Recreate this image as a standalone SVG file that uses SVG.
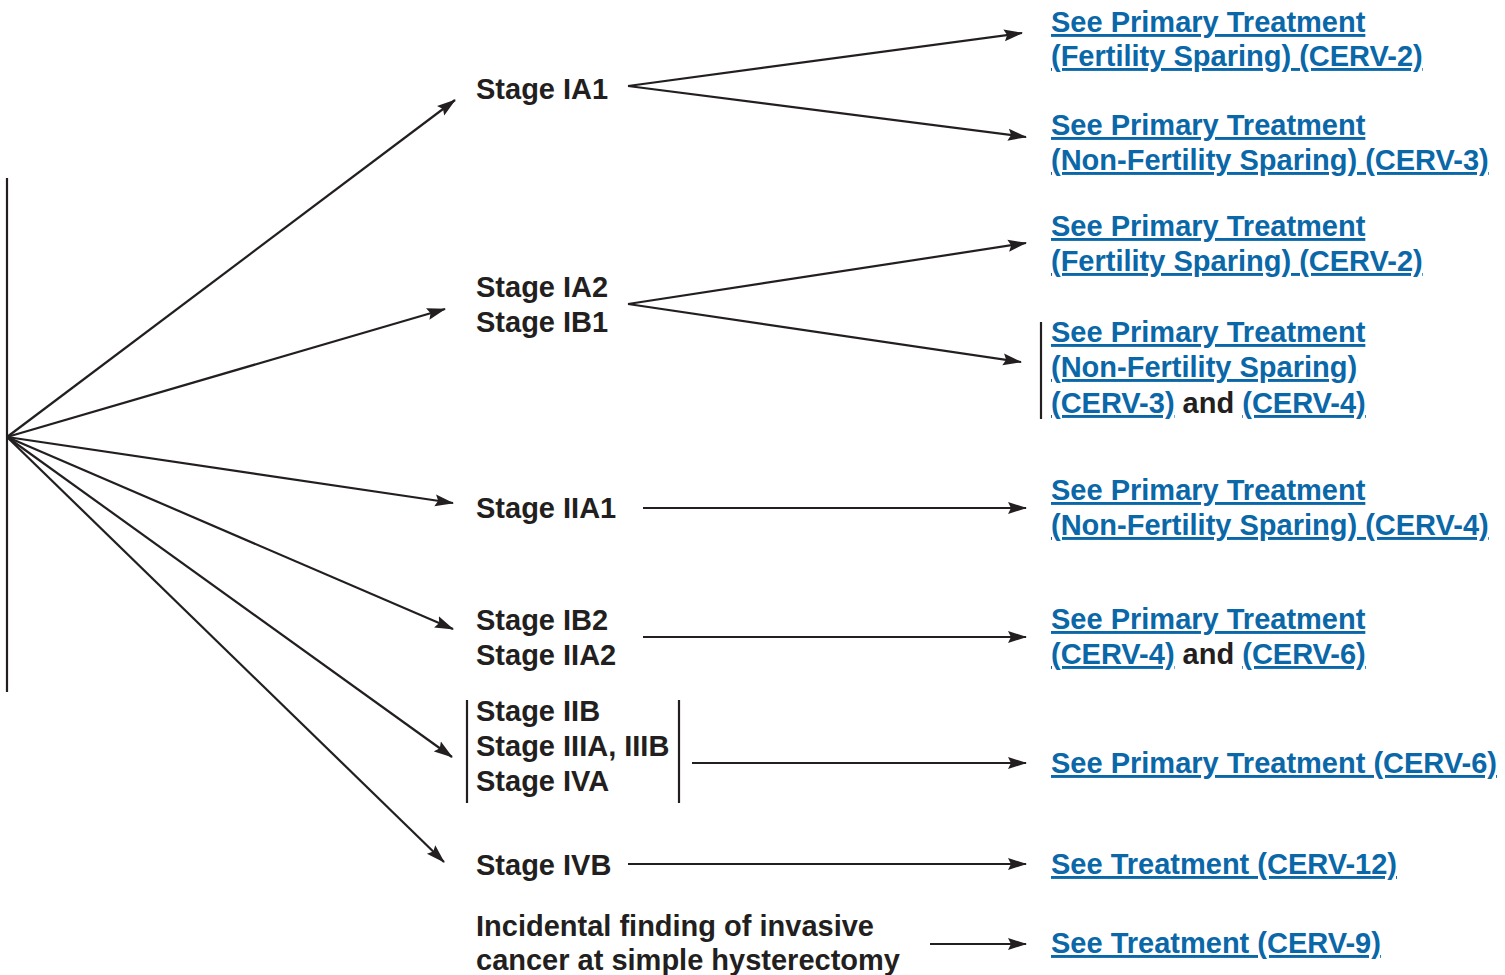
<svg xmlns="http://www.w3.org/2000/svg" width="1505" height="975" viewBox="0 0 1505 975">
<style>
text{font-family:"Liberation Sans",Arial,sans-serif;font-weight:bold;font-size:29px;fill:#231f20}
.lk{fill:#0a67a8;text-decoration:underline;text-decoration-skip-ink:none}
.k{fill:#231f20;text-decoration:none}
.ln{stroke:#231f20;stroke-width:2.2;fill:none}
.ar{stroke:#231f20;stroke-width:2.2;fill:none;marker-end:url(#ah)}
</style>
<defs>
<marker id="ah" markerWidth="20" markerHeight="14" refX="18" refY="7" orient="auto" markerUnits="userSpaceOnUse">
<path d="M0,1 L19,7 L0,13 L3,7 Z" fill="#231f20"/>
</marker>
</defs>
<rect width="1505" height="975" fill="#fff"/>
<g id="connectors">
<line class="ln" x1="7" y1="178" x2="7" y2="692"/>
<line class="ar" x1="7" y1="437" x2="455" y2="100"/>
<line class="ar" x1="7" y1="437" x2="445" y2="309"/>
<line class="ar" x1="7" y1="437" x2="453" y2="503"/>
<line class="ar" x1="7" y1="437" x2="453" y2="629"/>
<line class="ar" x1="7" y1="437" x2="452" y2="757"/>
<line class="ar" x1="7" y1="437" x2="444" y2="862"/>
<line class="ar" x1="628" y1="86" x2="1022" y2="33"/>
<line class="ar" x1="628" y1="86" x2="1026" y2="137"/>
<line class="ar" x1="628" y1="304" x2="1026" y2="243"/>
<line class="ar" x1="628" y1="304" x2="1021" y2="362"/>
<line class="ar" x1="643" y1="508" x2="1026" y2="508"/>
<line class="ar" x1="643" y1="637" x2="1026" y2="637"/>
<line class="ar" x1="692" y1="763" x2="1026" y2="763"/>
<line class="ar" x1="628" y1="864" x2="1026" y2="864"/>
<line class="ar" x1="930" y1="944" x2="1026" y2="944"/>
</g>
<g id="stage-ia1"><text x="476" y="99">Stage IA1</text></g>
<g id="stage-ia2-ib1"><text x="476" y="297">Stage IA2</text><text x="476" y="332">Stage IB1</text></g>
<g id="stage-iia1"><text x="476" y="518">Stage IIA1</text></g>
<g id="stage-ib2-iia2"><text x="476" y="630">Stage IB2</text><text x="476" y="665">Stage IIA2</text></g>
<g id="stage-iib-iva">
<line class="ln" x1="467" y1="700" x2="467" y2="803"/>
<line class="ln" x1="679" y1="700" x2="679" y2="803"/>
<text x="476" y="721">Stage IIB</text><text x="476" y="756">Stage IIIA, IIIB</text><text x="476" y="791">Stage IVA</text></g>
<g id="stage-ivb"><text x="476" y="875">Stage IVB</text></g>
<g id="incidental"><text x="476" y="936">Incidental finding of invasive</text><text x="476" y="970">cancer at simple hysterectomy</text></g>
<g id="t1"><text x="1051" y="32" class="lk">See Primary Treatment</text><text x="1051" y="66" class="lk">(Fertility Sparing) (CERV-2)</text></g>
<g id="t2"><text x="1051" y="135" class="lk">See Primary Treatment</text><text x="1051" y="170" class="lk">(Non-Fertility Sparing) (CERV-3)</text></g>
<g id="t3"><text x="1051" y="236" class="lk">See Primary Treatment</text><text x="1051" y="271" class="lk">(Fertility Sparing) (CERV-2)</text></g>
<g id="t4">
<line class="ln" x1="1041" y1="322" x2="1041" y2="419"/>
<text x="1051" y="342" class="lk">See Primary Treatment</text><text x="1051" y="377" class="lk">(Non-Fertility Sparing)</text>
<text x="1051" y="413"><tspan class="lk">(CERV-3)</tspan><tspan class="k"> and </tspan><tspan class="lk">(CERV-4)</tspan></text></g>
<g id="t5"><text x="1051" y="500" class="lk">See Primary Treatment</text><text x="1051" y="535" class="lk">(Non-Fertility Sparing) (CERV-4)</text></g>
<g id="t6"><text x="1051" y="629" class="lk">See Primary Treatment</text>
<text x="1051" y="664"><tspan class="lk">(CERV-4)</tspan><tspan class="k"> and </tspan><tspan class="lk">(CERV-6)</tspan></text></g>
<g id="t7"><text x="1051" y="773" class="lk">See Primary Treatment (CERV-6)</text></g>
<g id="t8"><text x="1051" y="874" class="lk">See Treatment (CERV-12)</text></g>
<g id="t9"><text x="1051" y="953" class="lk">See Treatment (CERV-9)</text></g>
</svg>
